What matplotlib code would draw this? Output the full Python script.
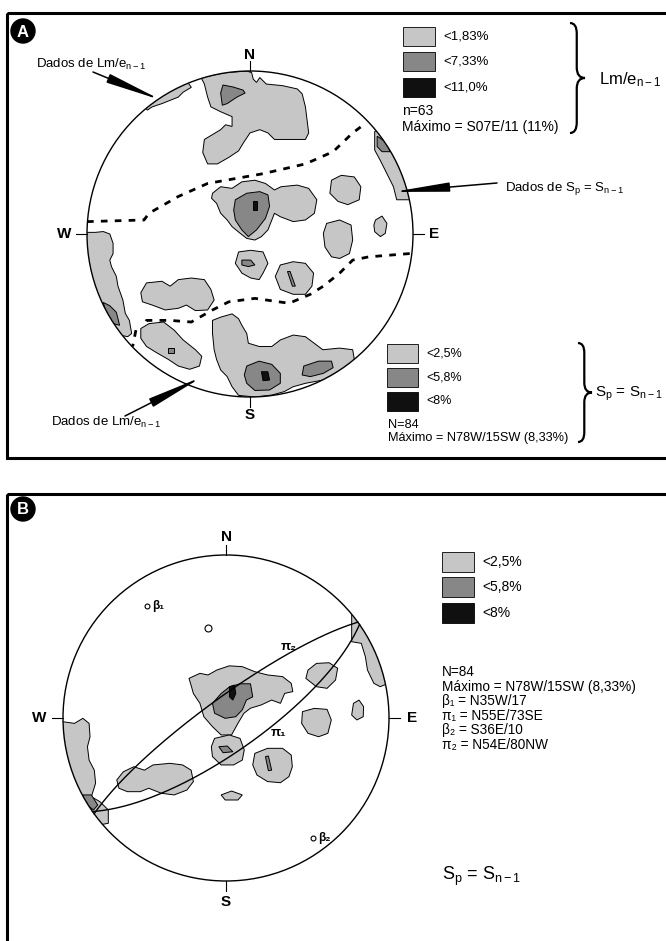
import numpy as np
import matplotlib
matplotlib.use("Agg")
import matplotlib.pyplot as plt
from matplotlib.patches import Circle, Rectangle, Polygon, PathPatch
from matplotlib.path import Path

plt.rcParams["font.family"] = ["Liberation Sans", "DejaVu Sans"]
plt.rcParams["mathtext.fontset"] = "custom"
plt.rcParams["mathtext.rm"] = "Liberation Sans"
plt.rcParams["mathtext.it"] = "Liberation Sans:italic"
plt.rcParams["mathtext.bf"] = "Liberation Sans:bold"

W, H = 666, 941
LIGHT = "#c6c6c6"
MEDIUM = "#878787"
DARK = "#101010"

# ---- density contours, outlines in % of net radius (x = east, y = north) ----
A_LIGHT = [
    [(-30, 96), (-15, 99), (-2, 100), (1, 99), (2, 95), (4, 93), (6, 96), (10, 92), (20, 91),
     (29, 89), (32, 86), (34, 78), (35, 70), (36, 62), (34, 58), (24, 58), (15, 58), (11, 62),
     (6, 64), (0, 62), (-4, 56), (-7, 51), (-13, 47), (-20, 43), (-26, 43), (-29, 50), (-28, 58),
     (-23, 61), (-18, 64), (-15, 67), (-11, 66), (-11, 72), (-18, 75), (-24, 78), (-26, 84), (-28, 92)],
    [(-68, 83), (-63, 86), (-57, 89), (-51, 92), (-46, 95), (-41, 97), (-36, 90), (-41, 87),
     (-44, 84), (-49, 82), (-54, 80), (-60, 78), (-63, 76)],
    [(79, 65), (84, 64), (90, 50), (96, 38), (99, 30), (101, 21), (90, 21), (88, 29), (84, 37),
     (80, 45), (76.5, 51.5), (76.5, 62.8)],
    [(-23, 25), (-18, 29), (-11, 28), (-5, 32), (3, 33), (9.5, 31), (15, 27), (19, 29), (29, 30),
     (36, 28), (41, 21), (39.5, 12.7), (34, 8.6), (26.5, 7.6), (18.6, 10.6), (15, 12.7),
     (13.4, 8.6), (11, 2.5), (7, -1.6), (3, -3.7), (-2, -2.7), (-6, 0.4), (-11, 4.5), (-14, 8.6),
     (-18, 12.7), (-20.5, 18.8), (-23.6, 21.9)],
    [(50, 33), (56, 36), (64, 35), (68, 29), (67, 21), (60, 18), (54, 20), (49, 25)],
    [(47, 6.5), (55, 8.6), (62, 5.5), (63, -3.7), (61, -12), (55, -15), (50, -14), (46, -8), (45, 0.4)],
    [(77, 8.6), (81, 11), (84, 6.5), (83, 0.4), (80, -1.6), (76.5, 1.4), (76, 5.5)],
    [(-102, 1), (-95, 1), (-90, 1.5), (-86, 0), (-84, -5.7), (-84, -12), (-86, -16), (-85, -20),
     (-82, -26), (-81, -32), (-78, -40.5), (-76.5, -48.7), (-74, -53), (-72.6, -61), (-75, -63),
     (-80, -62), (-100, -30)],
    [(-7, -11), (0.4, -10), (8, -11), (11, -18), (8, -24), (5.6, -28), (0.4, -27), (-5, -24), (-9, -18)],
    [(18.6, -19), (26.5, -17), (34, -18), (39, -24), (38, -32), (34, -37), (26.5, -37),
     (18.6, -34), (15.5, -26)],
    [(-67, -36), (-63.5, -30), (-54, -29), (-49, -32), (-44, -28), (-36, -27), (-28, -28),
     (-24, -34), (-22, -40.5), (-26, -46.6), (-33.5, -47), (-39, -43.6), (-44, -45.6),
     (-52, -46.6), (-60, -43.6), (-66, -41.6)],
    [(-67, -58), (-62, -55), (-53, -54), (-46.5, -59), (-41, -65), (-33.5, -71), (-29.6, -75),
     (-31, -81), (-37, -83), (-44, -81), (-50, -77), (-57, -73), (-63.5, -69), (-67, -64)],
    [(-23, -53), (-18, -51), (-11, -49), (-7, -52), (-5, -56), (-2, -61), (-1, -67), (5.6, -69),
     (13.4, -69), (18.6, -65), (26.5, -62), (34, -63), (44.7, -71), (55, -70), (63, -71),
     (64, -77), (60, -81), (52, -85.5), (44.7, -89.6), (34, -91.6), (26.5, -93.7), (21, -96.7),
     (13.4, -98.8), (3, -100), (-7, -99), (-11, -93.7), (-14, -87.5), (-18, -83.4),
     (-20.5, -77), (-22, -71), (-23, -61)],
]
A_MEDIUM = [
    [(-16.6, 91.4), (-10.4, 90.2), (-4.3, 88.3), (-3, 86.5), (-8, 84), (-14, 80), (-17, 79), (-18, 86.5)],
    [(78, 60), (84, 56), (86, 50.5), (81, 50.5), (78, 53.6)],
    [(-9, 21), (-2, 25), (6, 26), (11, 24), (12, 17), (9.5, 9.6), (4, 2.5), (-1, -1.6),
     (-5, 2.5), (-9, 8.6), (-10, 14.7)],
    [(-90, -42), (-86, -44), (-82, -48), (-80, -56), (-84, -55), (-88, -50)],
    [(-5, -16), (0.4, -16), (3, -19), (-1, -20), (-5, -19)],
    [(23, -23), (24.6, -23), (27.8, -32), (26, -32)],
    [(-50, -70), (-46.5, -70), (-46.5, -73), (-50, -73)],
    [(-2, -81), (5.6, -78), (13.4, -80), (18.6, -85.5), (18.6, -91.6), (12, -95.7), (3, -96),
     (-2, -91.6), (-3.5, -86.5)],
    [(33, -81), (42, -78), (50, -78), (51, -82), (45, -85.5), (37, -87.5), (32, -86.5)],
]
A_DARK = [
    [(2, 20), (4.6, 20), (4.6, 14.7), (2, 14.7)],
    [(7, -84.5), (11, -84.5), (12, -89.6), (8, -90)],
]

# girdle limits sketched on net A (dashed)
A_UPPER_X = [-100, -65, -62, -44, -26, 8, 34, 51, 63, 71]
A_UPPER_Y = [7.6, 8.6, 12.7, 23, 31, 37, 43, 50.5, 62, 68]
A_LOWER_X = [98, 73, 63, 55, 45, 37, 24, 3, -13, -23, -36, -49, -63.5, -65]
A_LOWER_Y = [-12, -14, -16, -24, -32, -37, -42.5, -39.5, -41.6, -46.6, -54, -53, -53, -56]
A_SHORT_X = [-70, -72]
A_SHORT_Y = [-59, -69]

B_LIGHT = [
    [(-22.7, 24.3), (-16, 27.4), (-11, 26.4), (-5.7, 29.4), (2, 32), (10, 31.5), (17.7, 28.4),
     (25.5, 26.4), (34.7, 25.4), (40, 21.3), (41, 16.2), (36, 15.1), (33.4, 9), (28, 11),
     (21.6, 8), (15, 6), (11, 2.9), (7.3, -3.3), (3.4, -10.4), (-3, -10.4), (-8.3, -5.3),
     (-13.6, 0.8), (-16, 9), (-20, 15), (-21.4, 20)],
    [(50.3, 29.4), (55.5, 33.5), (63.3, 33.9), (68.5, 30.5), (67.2, 23.3), (62, 18.2), (55.5, 19.2), (49, 24.3)],
    [(46.9, 3.9), (54.2, 5.9), (62, 5.3), (64.6, -1.2), (62.5, -9.4), (56.8, -11.5), (50.3, -9.4), (46.4, -3.3)],
    [(78.2, 9), (81.6, 11), (84.4, 7), (84.2, 0.8), (80.3, -1.2), (77.1, 1.8)],
    [(77.1, 67), (84, 62), (90, 52), (93, 44), (96, 34), (99, 21), (94.6, 19.2), (90.7, 21.3),
     (86.8, 29.4), (85.5, 37.6), (83, 45.8), (77.1, 46.8)],
    [(-7, -12.5), (2, -10.4), (8.6, -12.5), (11.2, -19.6), (10, -25.8), (4.7, -28.8), (-3, -28.8),
     (-8.3, -23.7), (-9, -17.6)],
    [(17.7, -21.7), (25.5, -18.6), (34.7, -18.6), (40, -22.7), (40.7, -29.9), (38.6, -36),
     (33.4, -39.7), (25.5, -39), (19, -35), (16.4, -28.8)],
    [(-102, -2), (-93, -3.3), (-87.8, -0.2), (-84, -3.3), (-83.4, -11.5), (-85, -17.6), (-84, -25.8),
     (-80.8, -32), (-80, -40), (-82.6, -48.3), (-77.4, -51.3), (-72.2, -56.4), (-72.2, -64.6),
     (-80, -66), (-100, -30)],
    [(-67, -38), (-63, -33), (-56.6, -29.9), (-50, -32), (-44.8, -28.8), (-34.4, -27.8),
     (-26.6, -28.8), (-21.4, -32), (-20, -39), (-24, -44.2), (-31.8, -47.2), (-39.6, -46.2),
     (-47.4, -43.1), (-52.6, -45.2), (-60.5, -45.2), (-65.7, -43.1)],
    [(-3, -47.2), (3.4, -44.8), (10, -47.2), (7.3, -50.3), (-0.5, -50.3)],
]
B_MEDIUM = [
    [(-8.3, 9), (-3, 15), (2, 19), (8.6, 21), (15, 21), (16.4, 13), (12.5, 11), (10, 5), (6, 0.8),
     (-0.5, -0.2), (-7, 2.9)],
    [(-4.4, -17.6), (0.8, -17.2), (4.2, -20.7), (-1.8, -21.3)],
    [(24.2, -23.7), (26, -23.3), (28, -32), (26, -32.3)],
    [(-87.8, -47.2), (-82.6, -47.2), (-78.7, -53.4), (-81.3, -56.4), (-86.5, -52.4)],
]
B_DARK = [
    [(2.1, 19.2), (5.2, 20.2), (6, 15), (4.2, 11), (2.1, 13)],
]

# planes (dip direction, dip) and lines (trend, plunge) on net B
PLANE_NAMES = ["π₁", "π₂"]
PLANE_DIPDIR = [145, 324]
PLANE_DIP = [73, 80]
PLANE_LABEL_X = [32, 38.6]
PLANE_LABEL_Y = [-9.4, 43.8]
BETA_NAMES = ["β₁", "β₂"]
BETA_TREND = [325, 144]
BETA_PLUNGE = [17, 10]
OTHER_TREND = [349]
OTHER_PLUNGE = [43]

A_LEGEND_TOP = ["<1,83%", "<7,33%", "<11,0%"]
A_LEGEND_BOT = ["<2,5%", "<5,8%", "<8%"]
B_LEGEND = ["<2,5%", "<5,8%", "<8%"]
B_INFO = ["N=84", "Máximo = N78W/15SW (8,33%)", "β₁ = N35W/17", "π₁ = N55E/73SE",
          "β₂ = S36E/10", "π₂ = N54E/80NW"]


def project(n, e, d):
    k = 100 / np.sqrt(1 + d)
    return e * k, n * k


def line_xy(trend, plunge):
    t = np.radians(np.asarray(trend, float))
    p = np.radians(np.asarray(plunge, float))
    return project(np.cos(p) * np.cos(t), np.cos(p) * np.sin(t), np.sin(p))


def plane_xy(dipdir, dip):
    s = np.radians(dipdir - 90)
    dd = np.radians(dipdir)
    dp = np.radians(dip)
    t = np.linspace(0, np.pi, 181)
    n = np.cos(t) * np.cos(s) + np.sin(t) * np.cos(dp) * np.cos(dd)
    e = np.cos(t) * np.sin(s) + np.sin(t) * np.cos(dp) * np.sin(dd)
    d = np.sin(t) * np.sin(dp)
    return project(n, e, d)


fig = plt.figure(figsize=(W / 100, H / 100), dpi=100)


def make_net(cx, cy, r=163):
    half = 1.3 * r
    ax = fig.add_axes([(cx - half) / W, 1 - (cy + half) / H, 2 * half / W, 2 * half / H])
    ax.set_xlim(-130, 130)
    ax.set_ylim(-130, 130)
    ax.axis("off")
    return ax


def draw_net(ax, light, medium, dark, lab_pos):
    for blobs, color in ((light, LIGHT), (medium, MEDIUM), (dark, DARK)):
        for blob in blobs:
            patch = Polygon(blob, closed=True, facecolor=color, edgecolor="black", linewidth=0.7)
            ax.add_patch(patch)
            patch.set_clip_path(Circle((0, 0), 100, transform=ax.transData))
    ax.add_patch(Circle((0, 0), 100, fill=False, ec="black", lw=1.0, zorder=5))
    ticks = {"N": ((0, 0), (100, 106)), "S": ((0, 0), (-100, -106)),
             "W": ((-100, -107), (0, 0)), "E": ((100, 107), (0, 0))}
    for lab, (tx, ty) in ticks.items():
        ax.plot(tx, ty, color="black", lw=0.8)
        ax.text(*lab_pos[lab], lab, ha="center", va="center", fontsize=11, fontweight="bold")


ax_a = make_net(250, 234)
draw_net(ax_a, A_LIGHT, A_MEDIUM, A_DARK,
         {"N": (0, 110), "S": (0, -111), "W": (-114, 0), "E": (113, 0)})
for xs, ys in ((A_UPPER_X, A_UPPER_Y), (A_LOWER_X, A_LOWER_Y), (A_SHORT_X, A_SHORT_Y)):
    ax_a.plot(xs, ys, color="black", lw=2.0, ls=(0, (2.4, 2.6)))

ax_b = make_net(226, 718)
draw_net(ax_b, B_LIGHT, B_MEDIUM, B_DARK,
         {"N": (0, 111), "S": (0, -113), "W": (-114.7, 0), "E": (114, 0)})
for name, ddir, dip, lx, ly in zip(PLANE_NAMES, PLANE_DIPDIR, PLANE_DIP, PLANE_LABEL_X, PLANE_LABEL_Y):
    gx, gy = plane_xy(ddir, dip)
    ax_b.plot(gx, gy, color="black", lw=1.0, zorder=6)
    ax_b.text(lx, ly, name, fontsize=9.5, fontweight="bold", ha="center", va="center")
bx, by = line_xy(BETA_TREND, BETA_PLUNGE)
ax_b.plot(bx, by, "o", ms=3.5, mfc="white", mec="black", mew=0.8)
for name, x, y in zip(BETA_NAMES, bx, by):
    ax_b.text(x + 3, y, name, fontsize=8.5, fontweight="bold", ha="left", va="center")
ox, oy = line_xy(OTHER_TREND, OTHER_PLUNGE)
ax_b.plot(ox, oy, "o", ms=5, mfc="white", mec="black", mew=0.8)

# ---- page overlay: frames, legends, captions ----
ov = fig.add_axes([0, 0, 1, 1])
ov.set_xlim(0, W)
ov.set_ylim(H, 0)
ov.axis("off")

ov.add_patch(Rectangle((7, 13), 700, 445, fill=False, lw=2.2, ec="black"))
ov.add_patch(Rectangle((7, 494), 700, 500, fill=False, lw=2.2, ec="black"))
for cy, letter in ((31, "A"), (509, "B")):
    ov.add_patch(Circle((23, cy), 12, color="black"))
    ov.text(23, cy + 1, letter, color="white", fontsize=12, fontweight="bold", ha="center", va="center")


def legend(x, ys, labels, w, h, tx, size):
    for y, lab, col in zip(ys, labels, (LIGHT, MEDIUM, DARK)):
        ov.add_patch(Rectangle((x, y), w, h, facecolor=col, edgecolor="black", lw=0.6))
        ov.text(tx, y + h / 2, lab, fontsize=size, ha="left", va="center")


def brace(x, y0, y1, w):
    ym = (y0 + y1) / 2
    xm = x + w * 0.45
    q = w * 0.7
    verts = [(x, y0), (xm, y0), (xm, y0 + q), (xm, ym - q), (xm, ym), (x + w, ym),
             (xm, ym), (xm, ym + q), (xm, y1 - q), (xm, y1), (x, y1)]
    codes = [Path.MOVETO, Path.CURVE3, Path.CURVE3, Path.LINETO, Path.CURVE3, Path.CURVE3,
             Path.CURVE3, Path.CURVE3, Path.LINETO, Path.CURVE3, Path.CURVE3]
    ov.add_patch(PathPatch(Path(verts, codes), fill=False, lw=1.6, ec="black"))


legend(403, [27, 52, 78], A_LEGEND_TOP, 32, 19, 443, 9.5)
ov.text(402, 111, "n=63", fontsize=10, va="center")
ov.text(402, 127, "Máximo = S07E/11 (11%)", fontsize=10, va="center")
brace(570, 23, 133, 15)
ov.text(599, 80, r"Lm/e$_{\mathrm{n-1}}$", fontsize=12, va="center")

legend(387, [344, 368, 392], A_LEGEND_BOT, 31, 19, 426, 9)
ov.text(388, 425, "N=84", fontsize=9.2, va="center")
ov.text(388, 438, "Máximo = N78W/15SW (8,33%)", fontsize=9.2, va="center")
brace(578, 343, 442, 14)
ov.text(595, 394, r"S$_{\mathrm{p}}$ = S$_{\mathrm{n-1}}$", fontsize=11, va="center")

arrow = dict(arrowstyle="-|>,head_length=3.4,head_width=0.28", color="black", lw=1.1,
             shrinkA=0, shrinkB=0, mutation_scale=10)
ov.text(36, 64, r"Dados de Lm/e$_{\mathrm{n-1}}$", fontsize=9.5, va="center")
ov.annotate("", xy=(-54.6, 82.2), xycoords=ax_a.transData,
            xytext=(93, 72), textcoords="data", arrowprops=arrow)
ov.text(505, 188, r"Dados de S$_{\mathrm{p}}$ = S$_{\mathrm{n-1}}$", fontsize=9.5, va="center")
ov.annotate("", xy=(87.7, 25.8), xycoords=ax_a.transData,
            xytext=(497, 183), textcoords="data", arrowprops=arrow)
ov.text(51, 422, r"Dados de Lm/e$_{\mathrm{n-1}}$", fontsize=9.5, va="center")
ov.annotate("", xy=(-29.4, -87.7), xycoords=ax_a.transData,
            xytext=(125, 416), textcoords="data", arrowprops=arrow)

legend(442, [552, 577, 603], B_LEGEND, 32, 20, 482, 10)
for i, line in enumerate(B_INFO):
    ov.text(442, 672 + 14.6 * i, line, fontsize=9.8, va="center")
ov.text(442, 876, r"S$_{\mathrm{p}}$ = S$_{\mathrm{n-1}}$", fontsize=13, va="center")

fig.savefig("out.png", dpi=100, facecolor="white")
